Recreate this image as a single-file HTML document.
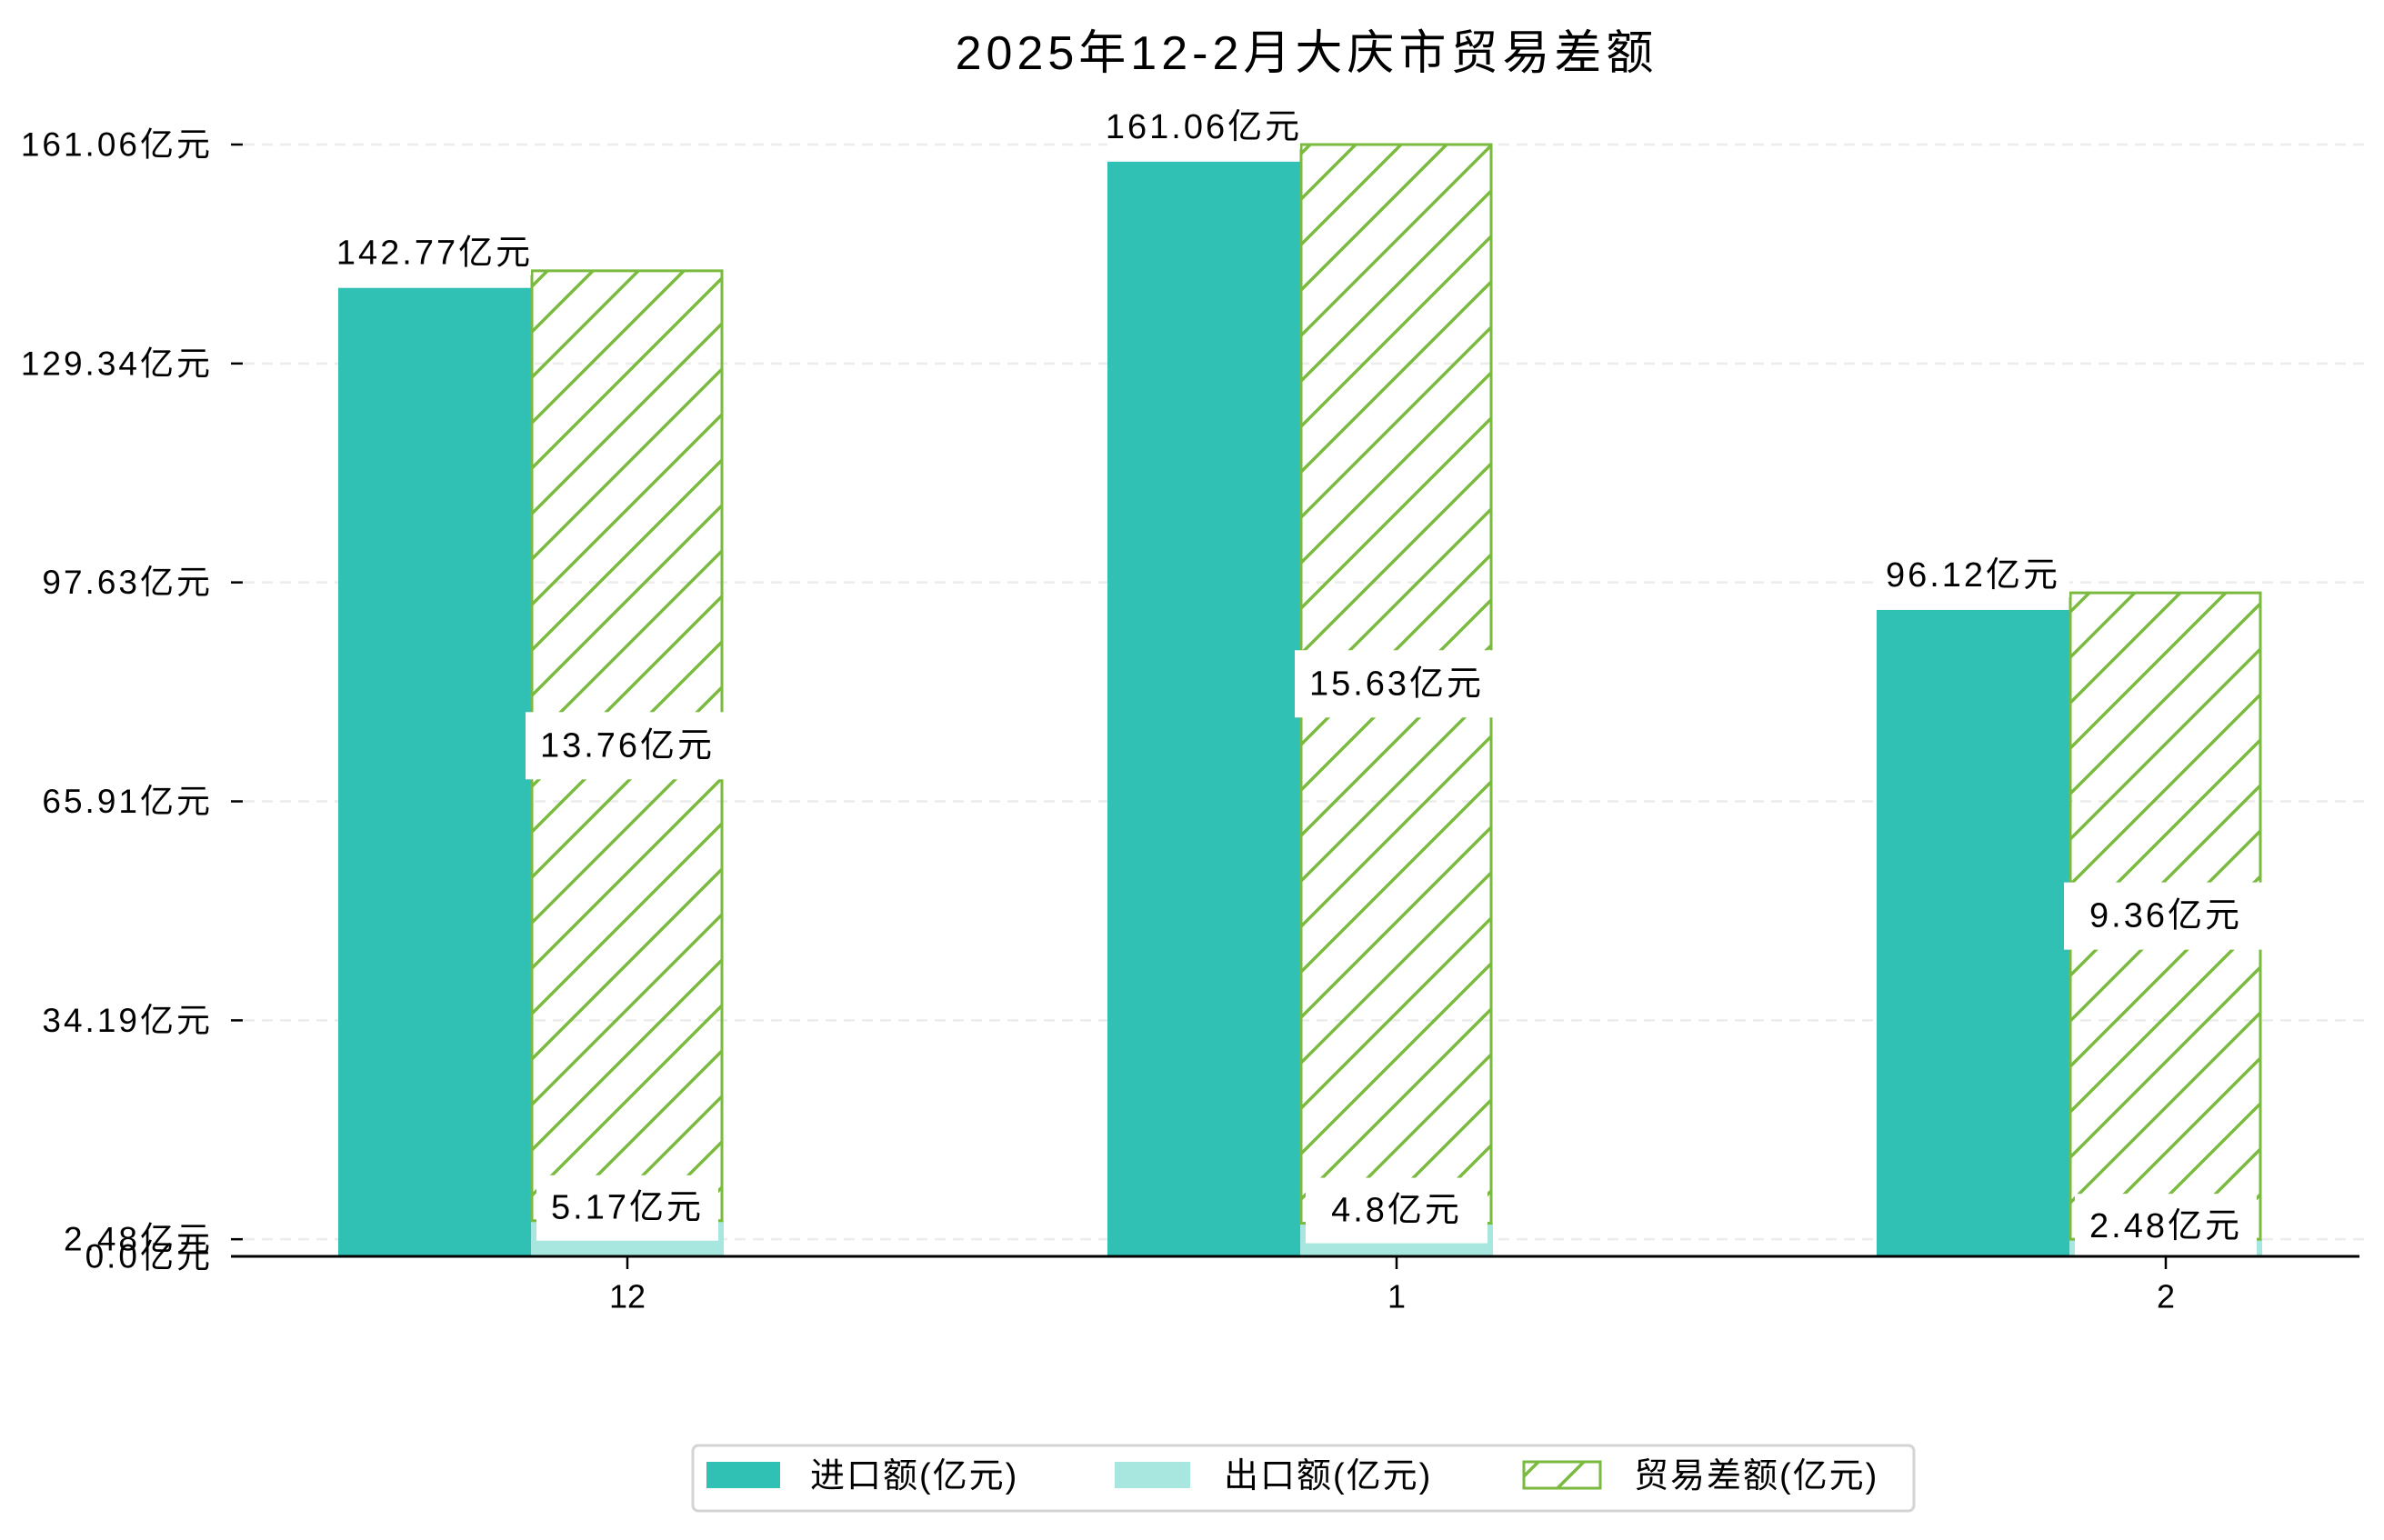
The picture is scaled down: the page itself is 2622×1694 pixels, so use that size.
<!DOCTYPE html>
<html><head><meta charset="utf-8"><style>
html,body{margin:0;padding:0;background:#fff;}
svg text{font-family:"Liberation Sans","Noto Sans CJK SC",sans-serif;fill:#000;}
</style></head><body>
<svg id="chart" width="2622" height="1689" xmlns="http://www.w3.org/2000/svg">
<defs>
<pattern id="hatch" patternUnits="userSpaceOnUse" width="50" height="50">
<path d="M-10,10 L10,-10 M0,50 L50,0 M40,60 L60,40" stroke="#7aba3f" stroke-width="3.5"/>
</pattern>
</defs>
<text x="1437" y="59" font-size="52" letter-spacing="5" text-anchor="middle" dominant-baseline="central">2025年12-2月大庆市贸易差额</text>
<g id="grid"></g><g id="bars"></g><g id="labels"></g><g id="axes"></g>
<g>
<rect x="762" y="1590" width="1343" height="72" rx="6" fill="#fff" stroke="#d4d4d4" stroke-width="3"/>
<rect x="777" y="1608" width="81" height="29" fill="#30c0b4"/>
<text x="891" y="1624" font-size="38" letter-spacing="2" dominant-baseline="central">进口额(亿元)</text>
<rect x="1226" y="1608" width="83" height="29" fill="#a8e7e0"/>
<text x="1346" y="1624" font-size="38" letter-spacing="2" dominant-baseline="central">出口额(亿元)</text>
<rect x="1676" y="1608" width="84" height="29" fill="url(#hatch)" stroke="#7aba3f" stroke-width="3"/>
<text x="1797" y="1624" font-size="38" letter-spacing="2" dominant-baseline="central">贸易差额(亿元)</text>
</g>
</svg>
<script>
const categories = ["12", "1", "2"];
const imports = [142.77, 161.06, 96.12];
const exports = [5.17, 4.8, 2.48];
const balanceLabels = ["13.76", "15.63", "9.36"];
const yTicks = [0.0, 2.48, 34.19, 65.91, 97.63, 129.34, 161.06];
const yTickLabels = ["0.0亿元", "2.48亿元", "34.19亿元", "65.91亿元", "97.63亿元", "129.34亿元", "161.06亿元"];

const NS = "http://www.w3.org/2000/svg";
const y0 = 1382, yTop = 159, yMax = 161.06;
const yScale = v => y0 - (v / yMax) * (y0 - yTop);
const xFirst = 690, xStep = 846;
const xScale = i => xFirst + i * xStep;
const BW = 212;
const minExport = Math.min(...exports);
function mk(tag, attrs, parent, text) {
  const e = document.createElementNS(NS, tag);
  for (const k in attrs) e.setAttribute(k, attrs[k]);
  if (text !== undefined) e.textContent = text;
  document.getElementById(parent).appendChild(e);
  return e;
}
yTicks.forEach((t, i) => {
  const y = yScale(t);
  if (t > 0) {
    const g = mk("line", {x1: 268, x2: 2600, y1: y, y2: y, stroke: "#ececec", "stroke-width": 2.5, "stroke-dasharray": "12,8"}, "grid");
    
    
  }
  const tk = mk("line", {x1: 254, x2: 267, y1: y, y2: y, stroke: "#000", "stroke-width": 2.5}, "axes");
  
  
  const tl = mk("text", {x: 234, y: y, "font-size": 37, "letter-spacing": 3, "text-anchor": "end", "dominant-baseline": "central"}, "axes", yTickLabels[i]);
  
  
});
categories.forEach((c, i) => {
  const cx = xScale(i);
  const yi = yScale(imports[i] - minExport);
  const ib = mk("rect", {x: cx - 318, y: yi, width: BW, height: y0 - yi, fill: "#30c0b4"}, "bars");
  
  
  const ye = yScale(exports[i]);
  const eb = mk("rect", {x: cx - 106, y: ye, width: BW, height: y0 - ye, fill: "#a8e7e0"}, "bars");
  
  
  const yb = yScale(imports[i]);
  const hb = mk("rect", {x: cx - 105, y: yb, width: BW - 3, height: ye - yb, fill: "url(#hatch)", stroke: "#7aba3f", "stroke-width": 3}, "bars");
  
  
  const ly = yi - 38;
  const ibx = mk("rect", {x: cx - 318, y: ly - 24, width: BW, height: 48, fill: "#fff"}, "labels");
  
  
  const il = mk("text", {x: cx - 212, y: ly, "font-size": 38, "letter-spacing": 3, "text-anchor": "middle", "dominant-baseline": "central"}, "labels", imports[i] + "亿元");
  
  
  const my = (yb + ye) / 2;
  const bbx = mk("rect", {x: cx - 112, y: my - 37, width: 220, height: 74, fill: "#fff"}, "labels");
  
  
  const bl = mk("text", {x: cx, y: my, "font-size": 38, "letter-spacing": 3, "text-anchor": "middle", "dominant-baseline": "central"}, "labels", balanceLabels[i] + "亿元");
  
  
  const ey = ye - 14;
  const ebx = mk("rect", {x: cx - 100, y: ey - 36, width: 200, height: Math.min(72, y0 - (ey - 36)), fill: "#fff"}, "labels");
  
  
  const el = mk("text", {x: cx, y: ey, "font-size": 38, "letter-spacing": 3, "text-anchor": "middle", "dominant-baseline": "central"}, "labels", exports[i] + "亿元");
  
  
  const xt = mk("line", {x1: cx, x2: cx, y1: y0, y2: y0 + 14, stroke: "#000", "stroke-width": 2.5}, "axes");
  
  
  const xl = mk("text", {x: cx, y: 1426, "font-size": 36, "text-anchor": "middle", "dominant-baseline": "central"}, "axes", c);
  
  
});
const ax = mk("line", {x1: 254, x2: 2595, y1: y0, y2: y0, stroke: "#000", "stroke-width": 3}, "axes");


</script>
</body></html>
